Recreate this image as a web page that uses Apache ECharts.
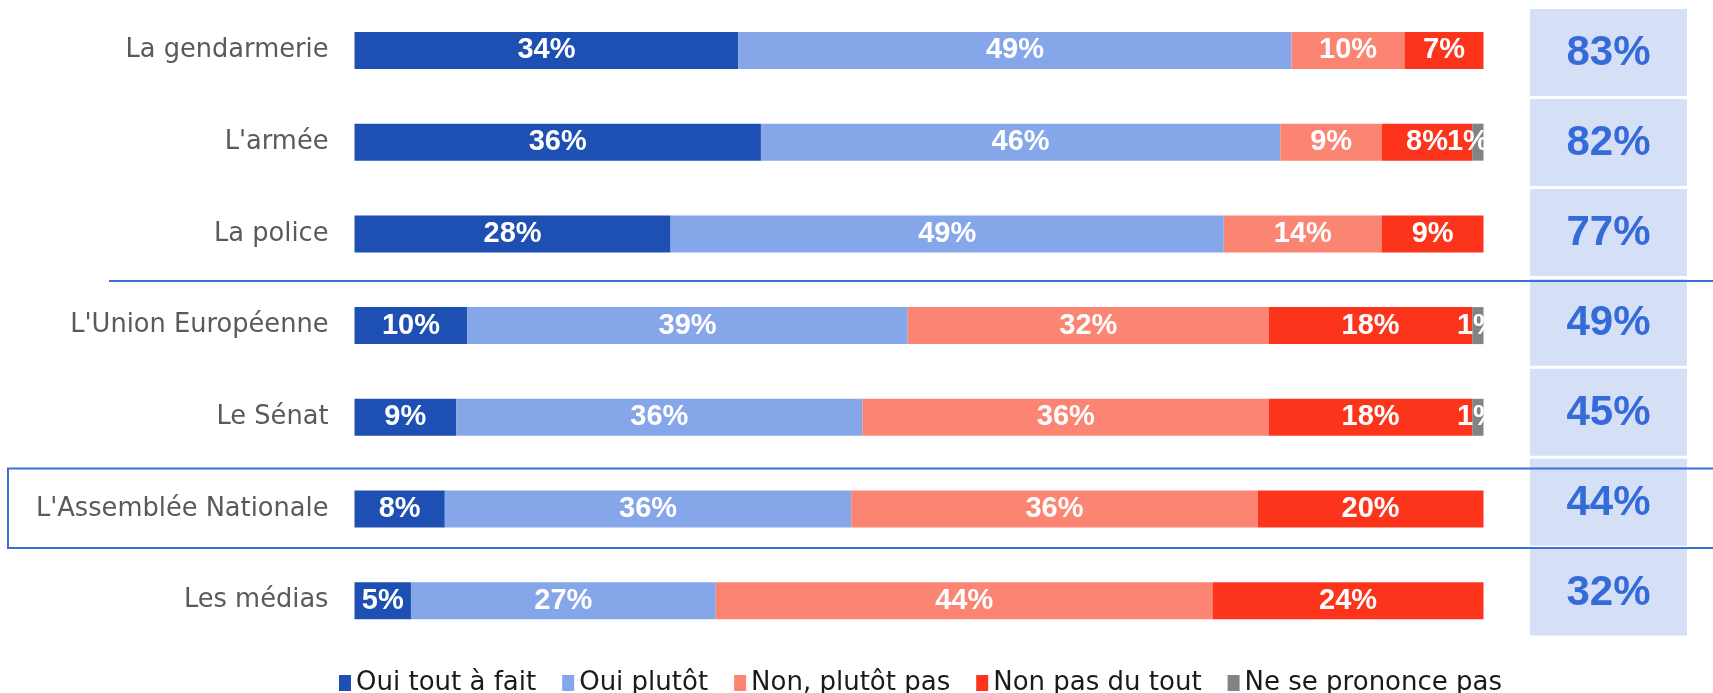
<!DOCTYPE html>
<html>
<head>
<meta charset="utf-8">
<script src="https://cdn.jsdelivr.net/npm/echarts@6/dist/echarts.min.js"></script>
<style>
html, body { margin: 0; padding: 0; background: #fff; }
#chart { width: 1713px; height: 693px; }
</style>
</head>
<body>
<div id="chart"></div>
<script>
// catégories (de haut en bas)
const categories = [
    'La gendarmerie',
    "L'armée",
    'La police',
    "L'Union Européenne",
    'Le Sénat',
    "L'Assemblée Nationale",
    'Les médias',
];
const seriesNames = ['Oui tout à fait', 'Oui plutôt', 'Non, plutôt pas', 'Non pas du tout', 'Ne se prononce pas'];
const ouiToutAFait = [34, 36, 28, 10, 9, 8, 5];
const ouiPlutot = [49, 46, 49, 39, 36, 36, 27];
const nonPlutotPas = [10, 9, 14, 32, 36, 36, 44];
const nonPasDuTout = [7, 8, 9, 18, 18, 20, 24];
const nspp = [0, 1, 0, 1, 1, 0, 0];
const totalConfiance = [83, 82, 77, 49, 45, 44, 32];

const colors = ['#1E4FB3', '#86A6EA', '#FB8473', '#FC341C', '#808486'];
const labelFont = '"Liberation Sans", Arial, sans-serif';
const textFont = '"DejaVu Sans", sans-serif';
const lineBlue = '#3D6FDA';

// décalage manuel des petits libellés gris (1%)
const nsppOffset = { 1: -10, 3: 0, 4: 0 };

const stackSeries = [ouiToutAFait, ouiPlutot, nonPlutotPas, nonPasDuTout, nspp].map((arr, k) => ({
    name: seriesNames[k],
    type: 'bar',
    stack: 'total',
    xAxisIndex: 0,
    yAxisIndex: 0,
    barWidth: 37,
    itemStyle: { color: colors[k] },
    label: {
        show: true,
        position: 'inside',
        color: '#fff',
        fontFamily: labelFont,
        fontWeight: 'bold',
        fontSize: 29,
        formatter: p => (p.value ? `${p.value}%` : ''),
    },
    data: arr.map((v, i) => (k === 4 && nsppOffset[i] !== undefined
        ? { value: v, label: { offset: [nsppOffset[i], 0] } }
        : v)),
    z: 2,
}));

const chart = echarts.init(document.getElementById('chart'), null, { renderer: 'canvas' });

chart.setOption({
    animation: false,
    legend: {
        data: seriesNames,
        left: 334,
        top: 665,
        icon: 'rect',
        itemWidth: 12,
        itemHeight: 16,
        itemGap: 26,
        textStyle: {
            fontFamily: textFont,
            fontSize: 26,
            color: '#1a1a1a',
        },
    },
    grid: [
        { left: 354.5, width: 1129, top: 4.6, height: 642, containLabel: false },
        { left: 1530, width: 157, top: 7.6, height: 629.5, containLabel: false },
    ],
    xAxis: [
        { type: 'value', gridIndex: 0, min: 0, max: 100, show: false },
        { type: 'value', gridIndex: 1, min: 0, max: 1, show: false },
    ],
    yAxis: [
        {
            type: 'category',
            gridIndex: 0,
            inverse: true,
            data: categories,
            axisLine: { show: false },
            axisTick: { show: false },
            axisLabel: {
                margin: 26,
                color: '#5a5a5a',
                fontFamily: textFont,
                fontSize: 25.7,
            },
        },
        {
            type: 'category',
            gridIndex: 1,
            inverse: true,
            data: categories,
            show: false,
        },
    ],
    series: [
        ...stackSeries,
        {
            type: 'custom',
            xAxisIndex: 1,
            yAxisIndex: 1,
            encode: { y: 0, x: 1 },
            data: totalConfiance.map((t, i) => [i, t]),
            renderItem(params, api) {
                const idx = api.value(0);
                const left = api.coord([0, idx]);
                const right = api.coord([1, idx]);
                const band = api.size([0, 1])[1];
                const h = band - 3;
                return {
                    type: 'group',
                    children: [
                        {
                            type: 'rect',
                            shape: { x: left[0], y: left[1] - h / 2, width: right[0] - left[0], height: h },
                            style: { fill: '#D5E0F6' },
                        },
                        {
                            type: 'text',
                            style: {
                                x: (left[0] + right[0]) / 2,
                                y: left[1] + 1,
                                text: `${api.value(1)}%`,
                                align: 'center',
                                verticalAlign: 'middle',
                                fill: '#356AD9',
                                font: `bold 42px ${labelFont}`,
                            },
                        },
                    ],
                };
            },
        },
    ],
    graphic: [
        // cache le débordement des libellés 1%
        {
            type: 'rect',
            shape: { x: 1484, y: 0, width: 44, height: 650 },
            style: { fill: '#fff' },
            z: 50,
        },
        {
            type: 'line',
            shape: { x1: 109, y1: 281, x2: 1713, y2: 281 },
            style: { stroke: lineBlue, lineWidth: 2 },
            z: 100,
        },
        {
            type: 'rect',
            shape: { x: 8, y: 468.5, width: 1740, height: 79.5 },
            style: { fill: 'none', stroke: lineBlue, lineWidth: 2 },
            z: 100,
        },
    ],
});
</script>
</body>
</html>
